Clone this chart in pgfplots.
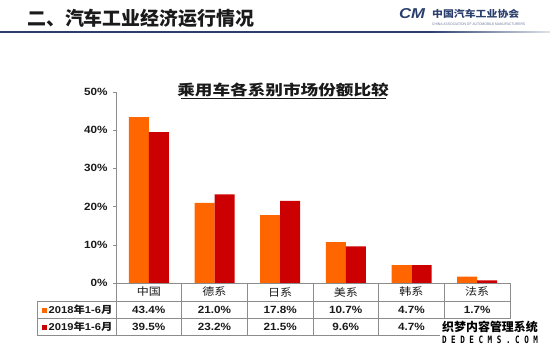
\documentclass[border=0pt]{standalone}
\usepackage{fontspec}
\usepackage{graphicx}
\usepackage{pgfplots}
\pgfplotsset{compat=1.18}
\setmainfont{Liberation Sans}[FakeStretch=1.12]
\newfontfamily\cjk{Noto Sans CJK SC}[FakeStretch=1.15]
\newfontfamily\cjkh{Noto Sans CJK SC}
\newfontfamily\cjkt{Noto Sans CJK SC}[FakeStretch=1.22]
\newfontfamily\wmmono{DejaVu Sans Mono}
\definecolor{or}{HTML}{FF6600}
\definecolor{rd}{HTML}{CC0000}
\definecolor{gridg}{HTML}{8C8C8C}
\definecolor{navy}{HTML}{2B3F6E}
\definecolor{txt}{HTML}{1A1A1A}
\begin{document}
\begin{tikzpicture}[x=1bp,y=1bp]
\path[use as bounding box] (0,0) rectangle (550,353);
% header
\node[anchor=west, font=\cjkh\bfseries\fontsize{19}{19}\selectfont, text=txt, inner sep=0] at (27,335) {二、汽车工业经济运行情况};
\fill[navy] (0,320.3) rectangle (430,322);
\shade[left color=navy, right color=navy!15] (430,320.3) rectangle (550,322);
\node[text=navy, inner sep=0] at (412,339) {\resizebox{26bp}{10bp}{\bfseries\itshape CM}};
\node[anchor=west, text=navy, inner sep=0, font=\cjk\bfseries\fontsize{9.5}{9.5}\selectfont] at (432,339) {中国汽车工业协会};
\node[anchor=west, text=navy!70, inner sep=0] at (432,329) {\resizebox{93bp}{2.5bp}{CHINA ASSOCIATION OF AUTOMOBILE MANUFACTURERS}};
% title
\node[font=\cjkt\bfseries\fontsize{14.5}{14.5}\selectfont, text=txt, inner sep=0] at (283,263) {乘用车各系别市场份额比较};
\draw[txt, line width=0.8pt] (181,255) -- (386,255);
\begin{axis}[
  at={(116bp,70bp)}, anchor=south west,
  scale only axis, width=394bp, height=191bp,
  xmin=-0.5, xmax=5.5, ymin=0, ymax=50,
  ybar=0pt, bar width=20bp,
  axis y line*=left, axis x line*=bottom,
  xtick=\empty,
  ytick={0,10,20,30,40,50},
  yticklabel={\pgfmathprintnumber{\tick}\%},
  /pgf/number format/assume math mode=true,
  yticklabel style={font=\bfseries\fontsize{10.5}{10.5}\selectfont, text=txt, xshift=-2bp},
  tick align=outside, major tick length=3bp,
  axis line style={gridg, line width=0.6pt},
  ytick style={gridg, line width=0.6pt},
  clip=false,
]
\addplot[fill=or, draw=none] coordinates {(0,43.4) (1,21.0) (2,17.8) (3,10.7) (4,4.7) (5,1.7)};
\addplot[fill=rd, draw=none] coordinates {(0,39.5) (1,23.2) (2,21.5) (3,9.6) (4,4.7) (5,0.7)};
\end{axis}
% table
\begin{scope}[gridg, line width=0.6pt]
\draw (116,70) -- (510,70);
\draw (37,51.3) -- (510,51.3);
\draw (37,35) -- (510,35);
\draw (37,17.5) -- (510,17.5);
\draw (37,51.3) -- (37,17.5);
\foreach \k in {0,...,6} {\draw ({116+65.667*\k},70) -- ({116+65.667*\k},17.5);}
\end{scope}
\foreach \n [count=\i from 0] in {中国,德系,日系,美系,韩系,法系} {
  \node[font=\cjk\fontsize{10.5}{10.5}\selectfont, text=txt, inner sep=0] at ({148.8+65.667*\i},61) {\n};
}
\foreach \v [count=\i from 0] in {43.4\%,21.0\%,17.8\%,10.7\%,4.7\%,1.7\%} {
  \node[font=\bfseries\fontsize{10.5}{10.5}\selectfont, text=txt, inner sep=0] at ({148.8+65.667*\i},43) {\v};
}
\foreach \v [count=\i from 0] in {39.5\%,23.2\%,21.5\%,9.6\%,4.7\%} {
  \node[font=\bfseries\fontsize{10.5}{10.5}\selectfont, text=txt, inner sep=0] at ({148.8+65.667*\i},26) {\v};
}
\fill[or] (41.5,40.5) rectangle (46.5,45.5);
\fill[rd] (41.5,23.5) rectangle (46.5,28.5);
\node[anchor=west, inner sep=0, text=txt, font=\bfseries\fontsize{10}{10}\selectfont] at (48.5,43) {2018{\cjk 年}1-6{\cjk 月}};
\node[anchor=west, inner sep=0, text=txt, font=\bfseries\fontsize{10}{10}\selectfont] at (48.5,26) {2019{\cjk 年}1-6{\cjk 月}};
% watermark
\fill[white] (440,7) rectangle (541,34);
\node[inner sep=0, font=\cjkh\bfseries\fontsize{12}{12}\selectfont, text=black] at (490,26) {织梦内容管理系统};
\node[inner sep=0, text=black] at (490,13.5) {\resizebox{96bp}{7.5bp}{\wmmono\bfseries D E D E C M S . C O M}};
\end{tikzpicture}
\end{document}
